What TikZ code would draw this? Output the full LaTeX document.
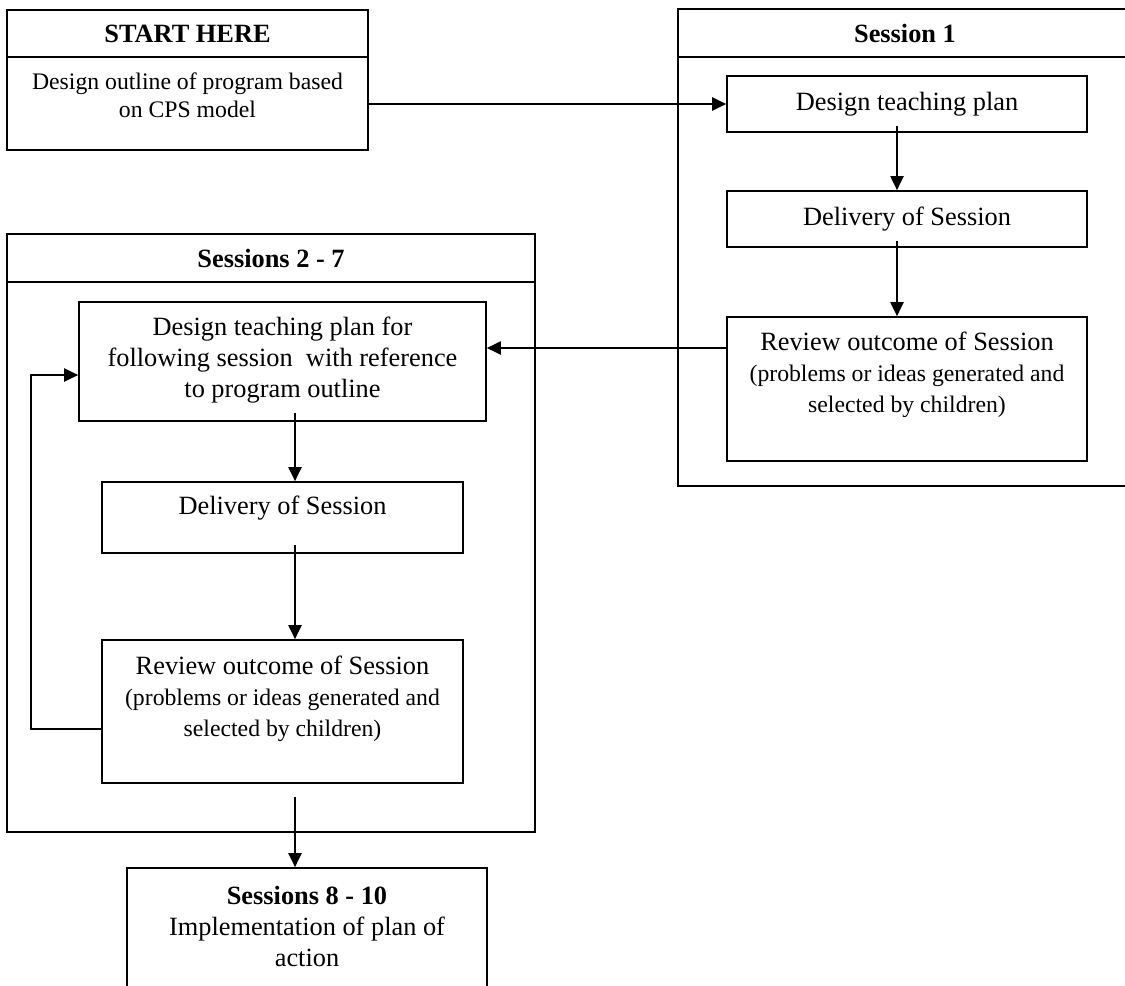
\documentclass[tikz,border=0pt]{standalone}
\usepackage{fontspec}
\setmainfont{Liberation Serif}
\usetikzlibrary{arrows.meta,calc,positioning}
\newcommand{\lgfont}{\fontsize{15}{17.6}\selectfont}
\newcommand{\smfont}{\fontsize{13.5}{15.9}\selectfont}

\begin{document}
\begin{tikzpicture}
[x=0.02cm,y=-0.02cm,line width=1pt,
 box/.style={draw,rectangle,line width=1pt,inner sep=0pt},
 txt/.style={align=center,inner sep=0pt,font=\lgfont},
 sml/.style={align=center,inner sep=0pt,font=\smfont},
 hdr/.style={inner sep=0pt,font=\lgfont\bfseries},
 arr/.style={-{Triangle[length=8pt,width=7.5pt]},line width=1pt}]

\useasboundingbox (0,0) rectangle (1125,985);

\node[box,minimum width=7.22cm,minimum height=2.8cm] (start) at (187.5,80) {};
\node[box,minimum width=9.24cm,minimum height=9.54cm] (s1) at (909,247.5) {};
\node[box,minimum width=10.56cm,minimum height=11.96cm] (s27) at (271,533) {};
\node[box,minimum width=7.2cm,minimum height=2.64cm] (s810) at (307,934) {};

\coordinate (h0) at (0,57);
\coordinate (h2) at (0,282);
\draw (start.west |- h0) -- (start.east |- h0);
\draw (s1.west |- h0) -- (s1.east |- h0);
\draw (s27.west |- h2) -- (s27.east |- h2);

\node[hdr] (t0) at (187.5,33.5) {START HERE};
\node[sml,anchor=north] (t0txt) at (187.5,72) {Design outline of program based\\on CPS model};

\node[hdr] (t1) at (905,33) {Session 1};
\node[box,minimum width=7.2cm,minimum height=1.12cm,font=\lgfont] (d1) at (907,104) {Design teaching plan};
\node[box,minimum width=7.2cm,minimum height=1.12cm,font=\lgfont] (v1) at (907,219) {Delivery of Session};
\node[box,minimum width=7.2cm,minimum height=2.88cm] (r1) at (907,389) {};
\node[txt,anchor=north] (r1txt) at (907,331) {Review outcome of Session\\{\smfont (problems or ideas generated and}\\{\smfont selected by children)}};

\node[hdr] (t2) at (271,258) {Sessions 2 - 7};
\node[box,minimum width=8.14cm,minimum height=2.38cm] (d2) at (282.5,361.5) {};
\node[txt,anchor=north] (d2txt) at (282.5,316) {Design teaching plan for\\following session\ \ with reference\\to program outline};
\node[box,minimum width=7.22cm,minimum height=1.42cm] (v2) at (282.5,517.5) {};
\node[txt] (v2txt) at (282.5,508) {Delivery of Session};
\node[box,minimum width=7.22cm,minimum height=2.86cm] (r2) at (282.5,711.5) {};
\node[txt,anchor=north] (r2txt) at (282.5,655) {Review outcome of Session\\{\smfont (problems or ideas generated and}\\{\smfont selected by children)}};

\node[txt,anchor=north] (s810txt) at (307,885) {\textbf{Sessions 8 - 10}\\Implementation of plan of\\action};

\coordinate (ax1) at (897,0);
\coordinate (ax2) at (295,0);
\coordinate (ay) at (0,348);
\coordinate (lp1) at (31,729);
\coordinate (lp2) at (31,375);
\coordinate (bs) at (295,797);

\draw[arr] (start.east |- d1) -- (d1.west);
\path \foreach \a/\b in {d1/v1,v1/r1}{
	([yshift=4pt]\a.south -| ax1) edge[arr] (\b.north -| ax1)
};
\draw[arr] (r1.west |- ay) -- (d2.east |- ay);
\draw[arr] (r2.west |- lp1) -- (lp1) -- (lp2) -- (d2.west |- lp2);
\path \foreach \a/\b in {d2/v2,v2/r2}{
	([yshift=5pt]\a.south -| ax2) edge[arr] (\b.north -| ax2)
};
\draw[arr] (bs) -- (s810.north -| bs);
\end{tikzpicture}
\end{document}
